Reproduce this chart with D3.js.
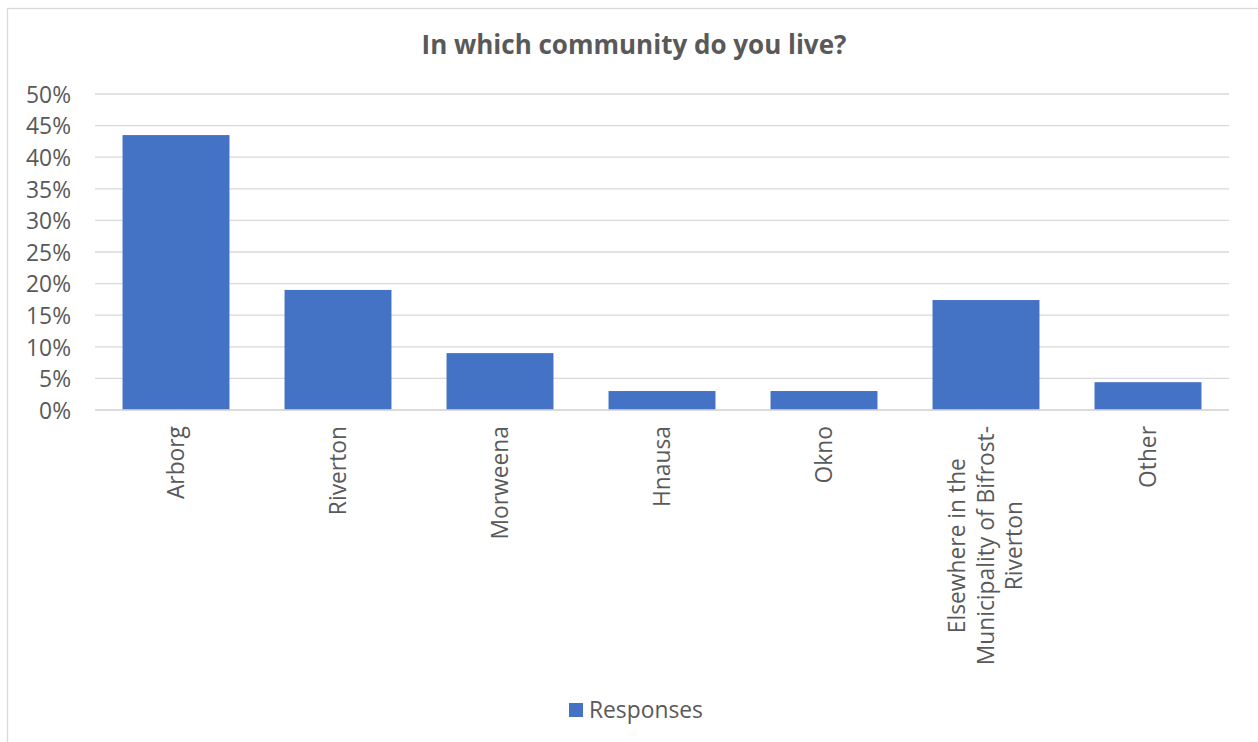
<!DOCTYPE html>
<html>
<head>
<meta charset="utf-8">
<script src="https://cdn.jsdelivr.net/npm/d3@7"></script>
<style>
  html, body { margin: 0; padding: 0; background: #fff; }
  svg { display: block; }
  text { font-family: "Open Sans", Lato, sans-serif; fill: #595959; }
</style>
</head>
<body>
<svg id="chart" width="1258" height="742"></svg>
<script>
// Survey responses: share of respondents by community
const categories = [
  ["Arborg"],
  ["Riverton"],
  ["Morweena"],
  ["Hnausa"],
  ["Okno"],
  ["Elsewhere in the", "Municipality of Bifrost-", "Riverton"],
  ["Other"]
];
const responses = [0.435, 0.19, 0.09, 0.03, 0.03, 0.174, 0.044];
const yTicks = [0, 0.05, 0.10, 0.15, 0.20, 0.25, 0.30, 0.35, 0.40, 0.45, 0.50];
const seriesName = "Responses";
const chartTitle = "In which community do you live?";

const W = 1258, H = 742;
const plot = { left: 95, right: 1229, top: 94, bottom: 410 };
const barColor = "#4472C4";
const gridColor = "#d9d9d9";
const labelFont = 22.8;

const svg = d3.select("#chart");

// chart area frame
svg.append("rect")
  .attr("x", 7.5).attr("y", 8.5)
  .attr("width", W + 10).attr("height", H + 10)
  .attr("fill", "#fff")
  .attr("stroke", gridColor).attr("stroke-width", 1.3);

const x = d3.scaleBand()
  .domain(d3.range(categories.length))
  .range([plot.left, plot.right])
  .paddingInner(0.34)
  .paddingOuter(0.17);

const y = d3.scaleLinear()
  .domain([0, 0.5])
  .range([plot.bottom, plot.top]);

// horizontal gridlines
svg.append("g")
  .selectAll("line")
  .data(yTicks)
  .join("line")
  .attr("x1", plot.left).attr("x2", plot.right)
  .attr("y1", d => y(d)).attr("y2", d => y(d))
  .attr("stroke", gridColor)
  .attr("stroke-width", 1.3);

// y axis labels
const yAxis = d3.axisLeft(y)
  .tickValues(yTicks)
  .tickFormat(d3.format(".0%"))
  .tickSize(0)
  .tickPadding(0);
const yg = svg.append("g")
  .attr("transform", `translate(${71},0)`)
  .call(yAxis);
yg.select(".domain").remove();
yg.selectAll("text")
  .attr("font-size", labelFont)
  .attr("font-family", "'Open Sans', Lato, sans-serif")
  .attr("fill", "#595959")
  .attr("dy", "0.36em");

// bars
svg.append("g")
  .selectAll("rect")
  .data(responses)
  .join("rect")
  .attr("x", (d, i) => x(i))
  .attr("width", x.bandwidth())
  .attr("y", d => y(d))
  .attr("height", d => y(0) - y(d))
  .attr("fill", barColor);

// baseline
svg.append("line")
  .attr("x1", plot.left).attr("x2", plot.right)
  .attr("y1", y(0)).attr("y2", y(0))
  .attr("stroke", gridColor).attr("stroke-width", 1.3);

// rotated category labels, lines centred within the label block
const lineGap = 28.5;
const labelTop = 426;
const catG = svg.append("g");
categories.forEach((lines, i) => {
  const cx = x(i) + x.bandwidth() / 2;
  const t = catG.append("text")
    .attr("font-size", labelFont)
    .attr("text-anchor", "middle")
    .attr("transform", `translate(${cx},${labelTop}) rotate(-90)`);
  lines.forEach((ln, k) => {
    t.append("tspan")
      .attr("x", 0)
      .attr("y", (k - (lines.length - 1) / 2) * lineGap)
      .attr("dy", "0.35em")
      .text(ln);
  });
  // shift block so that its longest line ends at the axis
  const len = t.node().getBBox().width;
  t.attr("transform", `translate(${cx},${labelTop + len / 2}) rotate(-90)`);
});

// title
svg.append("text")
  .attr("x", 634).attr("y", 54)
  .attr("text-anchor", "middle")
  .attr("font-size", 26)
  .attr("font-weight", "bold")
  .text(chartTitle);

// legend
const lg = svg.append("g");
lg.append("rect")
  .attr("x", 569).attr("y", 703)
  .attr("width", 14).attr("height", 14)
  .attr("fill", barColor);
lg.append("text")
  .attr("x", 589).attr("y", 718)
  .attr("font-size", labelFont)
  .text(seriesName);
</script>
</body>
</html>
